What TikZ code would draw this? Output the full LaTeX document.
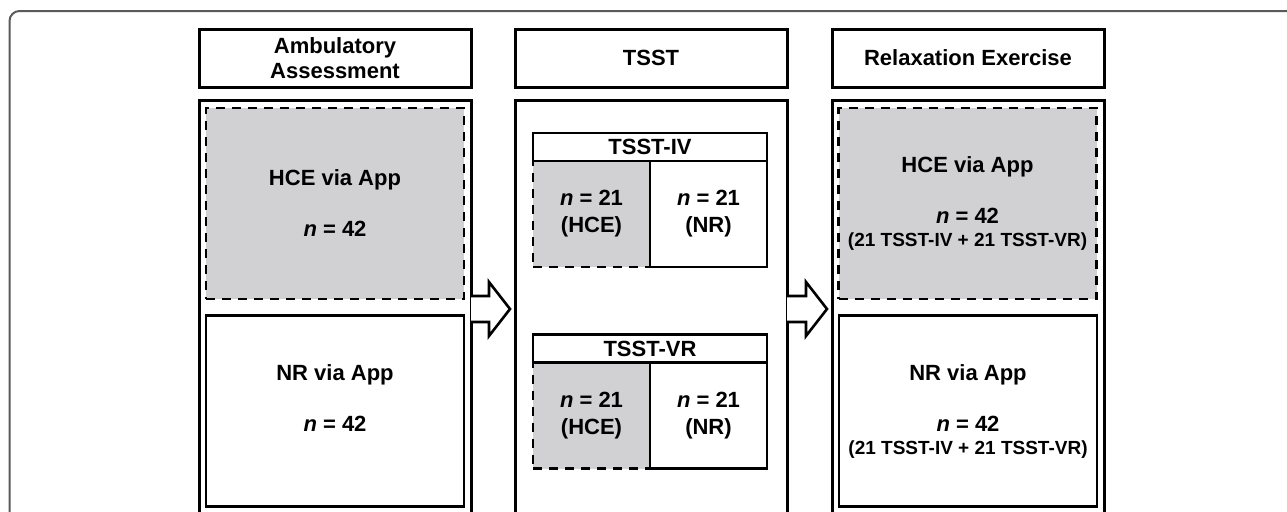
\documentclass[tikz,border=0pt]{standalone}
\usepackage{fontspec}
\setmainfont{Liberation Sans}
\usepackage{tikz}
\usetikzlibrary{positioning}

\definecolor{hcegray}{RGB}{209,208,211}
\definecolor{framegray}{RGB}{90,90,90}

\begin{document}
\begin{tikzpicture}[x=0.5pt,y=-0.5pt,
    every node/.style={outer sep=0pt,inner sep=0pt,align=center,
      font=\fontsize{11}{12.5}\selectfont\bfseries},
    hdr/.style={draw,line width=1.5pt,minimum width=136pt,minimum height=29pt},
    body/.style={draw,line width=1.5pt,minimum width=136pt,minimum height=240pt},
    grp/.style={draw,line width=1.3pt,minimum width=129pt,minimum height=95.5pt},
    grphce/.style={grp,dashed,dash pattern=on 4.5pt off 3.5pt,fill=hcegray},
    ttl/.style={draw,line width=1.3pt,minimum width=117pt,minimum height=14pt},
    cell/.style={draw,line width=1.3pt,minimum width=58.5pt,minimum height=53pt},
    cellhce/.style={cell,dash pattern=on 4.5pt off 3.5pt,fill=hcegray},
    small/.style={font=\fontsize{9.5}{11.5}\selectfont\bfseries},
    blockarr/.style={draw,line width=1.3pt,line join=miter,fill=white},
    frame/.style={draw=framegray,line width=1pt,rounded corners=5pt}]
  \useasboundingbox (0,0) rectangle (1287,511);
  \clip (0,0) rectangle (1287,511);
  % outer frame
  \draw[frame] (9.5,600) -- (9.5,11) -- (1400,11);
  % column heads
  \node[hdr] (hdrA) at (335,58) {Ambulatory\\Assessment};
  \node[hdr] (hdrB) at (651,58) {TSST};
  \node[hdr] (hdrC) at (968,58) {Relaxation Exercise};
  % column bodies
  \node[body,anchor=north] (bodyA) at (335,100) {};
  \node[body,anchor=north] (bodyB) at (651,100) {};
  \node[body,anchor=north] (bodyC) at (968,100) {};
  % ambulatory assessment
  \node[grphce] (hceA) at (335,203.5) {HCE via App\\[13pt]\textit{n} = 42};
  \node[grp] (nrA) at (335,411) {NR via App\\[13pt]\textit{n} = 42\\[0pt]\mbox{}};
  % TSST groups
  \node[ttl] (ivT) at (650,147) {TSST-IV};
  \node[cellhce,anchor=north west] (ivH) at (ivT.south west) {\textit{n} = 21\\[1pt](HCE)};
  \node[cell,anchor=north east] (ivN) at (ivT.south east) {\textit{n} = 21\\[1pt](NR)};
  \node[ttl] (vrT) at (650,348.5) {TSST-VR};
  \node[cellhce,anchor=north west] (vrH) at (vrT.south west) {\textit{n} = 21\\[1pt](HCE)};
  \node[cell,anchor=north east] (vrN) at (vrT.south east) {\textit{n} = 21\\[1pt](NR)};
  \draw[line width=1.3pt] (ivT.south west) -- (ivT.south east);
  \draw[line width=1.3pt] (vrT.south west) -- (vrT.south east);
  % relaxation exercise
  \node[grphce] (hceC) at (967.5,203.5) {HCE via App\\[13pt]\textit{n} = 42\\[-1pt]{\small\fontsize{9.5}{11.5}\selectfont (21 TSST-IV + 21 TSST-VR)}};
  \node[grp] (nrC) at (968,411) {NR via App\\[13pt]\textit{n} = 42\\[-1pt]{\fontsize{9.5}{11.5}\selectfont (21 TSST-IV + 21 TSST-VR)}};
  % block arrows
  \coordinate (arrA) at (bodyA.east |- 0,309);
  \coordinate (arrB) at (bodyB.east |- 0,309);
  \draw[blockarr] (arrA) ++(0,-13) -- ++(18,0) -- ++(0,-14) -- ++(21,27)
    -- ++(-21,27) -- ++(0,-14) -- ++(-18,0);
  \draw[blockarr] (arrB) ++(0,-13) -- ++(19,0) -- ++(0,-14) -- ++(21,27)
    -- ++(-21,27) -- ++(0,-14) -- ++(-19,0);
\end{tikzpicture}
\end{document}
